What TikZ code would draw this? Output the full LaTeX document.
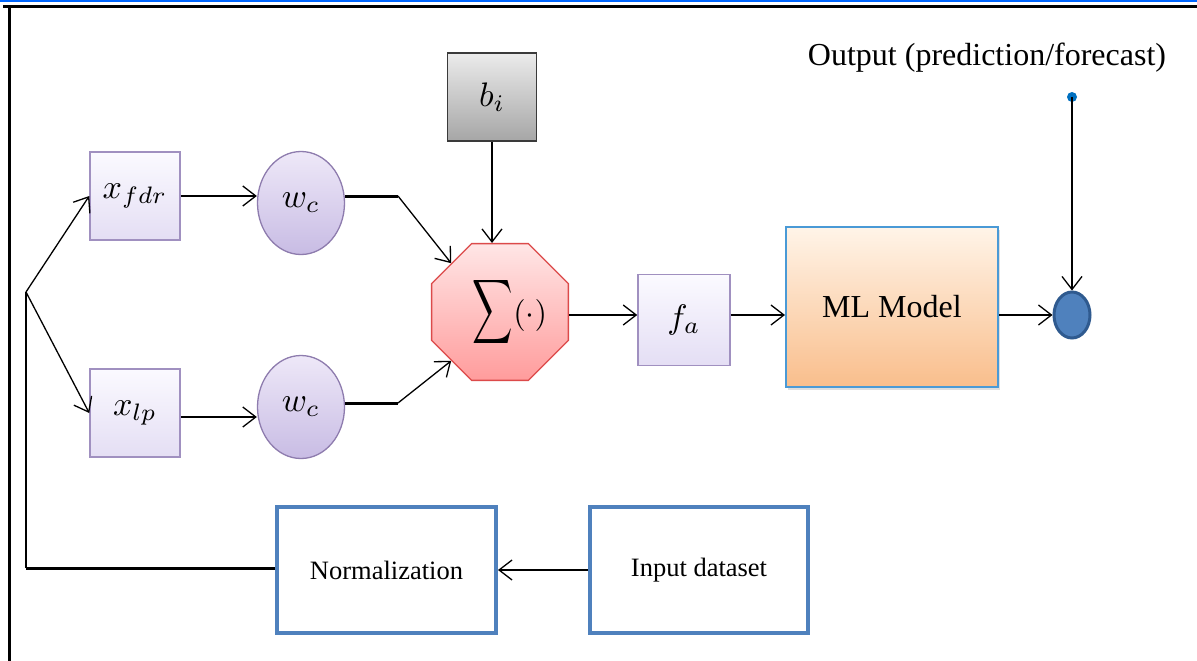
\documentclass[tikz,border=0pt]{standalone}
\usepackage{graphicx}
\usepackage{fontspec}
\setmainfont{Liberation Serif}
\usetikzlibrary{arrows.meta,shapes.geometric,shadows}
\definecolor{blueline}{HTML}{0066FF}
\definecolor{lavb}{HTML}{A090C0}
\definecolor{lavtop}{HTML}{FBFAFF}
\definecolor{lavbot}{HTML}{E4DEF4}
\definecolor{wctop}{HTML}{EEE8F8}
\definecolor{wcbot}{HTML}{C8BCE4}
\definecolor{wcb}{HTML}{8E7CAE}
\definecolor{bitop}{HTML}{EBEBEB}
\definecolor{bibot}{HTML}{A6A6A6}
\definecolor{bib}{HTML}{3A3A3A}
\definecolor{sumtop}{HTML}{FFE6E6}
\definecolor{sumbot}{HTML}{FF9C9C}
\definecolor{sumb}{HTML}{DC4A4A}
\definecolor{mltop}{HTML}{FFF4E8}
\definecolor{mlbot}{HTML}{F9BE8C}
\definecolor{mlb}{HTML}{4A9AD6}
\definecolor{outf}{HTML}{4F81BD}
\definecolor{outb}{HTML}{2F5A8F}
\definecolor{dotc}{HTML}{0070C0}
\definecolor{normb}{HTML}{4F81BD}
\newcommand{\bigmath}[1]{\scalebox{3.4}{$#1$}}
\tikzset{
  arr/.style={-{Straight Barb[length=13pt,width=20pt,line width=1.3pt]}, line width=1.3pt},
  thickln/.style={line width=3pt},
  lavbox/.style={draw=lavb, line width=1.5pt, top color=lavtop, bottom color=lavbot,
    minimum width=90pt, minimum height=88pt, inner sep=0pt},
  wcell/.style={ellipse, draw=wcb, line width=1.3pt, top color=wctop, bottom color=wcbot,
    minimum width=87pt, minimum height=103pt, inner sep=0pt},
  bibox/.style={draw=bib, line width=1.5pt, top color=bitop, bottom color=bibot,
    minimum width=89pt, minimum height=88pt, inner sep=0pt},
  sumoct/.style={regular polygon, regular polygon sides=8, draw=sumb, line width=1.3pt,
    top color=sumtop, bottom color=sumbot, minimum size=148pt, inner sep=0pt},
  mlbox/.style={draw=mlb, line width=2pt, top color=mltop, bottom color=mlbot,
    minimum width=212pt, minimum height=160pt, inner sep=0pt,
    font=\fontsize{32}{37}\selectfont,
    drop shadow={opacity=0.25, shadow xshift=2pt, shadow yshift=-3pt}},
  outell/.style={ellipse, draw=outb, line width=3pt, fill=outf,
    minimum width=36pt, minimum height=46pt, inner sep=0pt},
  plainbox/.style={draw=normb, line width=4pt, fill=white,
    minimum width=219pt, minimum height=126pt, inner sep=0pt,
    font=\fontsize{26.5}{31}\selectfont},
}
\begin{document}
\begin{tikzpicture}[x=1pt,y=-1pt]
\useasboundingbox (0,0) rectangle (1197,661);
\fill[white] (0,0) rectangle (1197,661);
% frame
\fill[blueline] (0,0) rectangle (1197,2.5);
\draw[line width=3pt] (3,6.5) -- (1197,6.5);
\draw[line width=3pt] (9,6.5) -- (9,661);
% nodes
\node[lavbox] (xf) at (135,196) {\bigmath{x_{fdr}}};
\node[lavbox] (xl) at (135,413) {\bigmath{x_{lp}}};
\node[wcell] (wc1) at (301,203) {\bigmath{w_c}};
\node[wcell] (wc2) at (301,407) {\bigmath{w_c}};
\node[bibox] (bi) at (492,97) {\bigmath{b_i}};
\node[sumoct] (sum) at (500,312) {};
\node[inner sep=0pt] (sumtxt) at (510,312) {\scalebox{2.8}[4.5]{$\displaystyle\sum$}\scalebox{3.2}{$(\cdot)$}};
\node[lavbox, minimum width=92pt, minimum height=91pt] (fa) at (684,320) {\bigmath{f_a}};
\node[mlbox] (ml) at (892,307) {ML Model};
\node[outell] (out) at (1072,315) {};
\node[circle, fill=dotc, minimum size=10pt, inner sep=0pt] (dot) at (1072,97) {};
\node[font=\fontsize{32}{37}\selectfont] (otxt) at (987,58) {Output (prediction/forecast)};
\node[plainbox] (norm) at (386.5,570) {Normalization};
\node[plainbox, minimum width=218pt] (inp) at (699,570) {Input dataset};
% coordinates
\coordinate (br) at (26,292);
\coordinate (corner) at (26,568);
\coordinate (k1) at (398,196);
\coordinate (k2) at (398,403);
% connectors
\draw[arr] (inp.west) -- (norm.east);
\draw[thickln] (norm.west |- corner) -- (corner);
\draw[line width=1.5pt] (corner) -- (br);
\draw[arr] (br) -- (xf.west);
\draw[arr] (br) -- (xl.west);
\draw[arr] (xf.east) -- (xf.east -| wc1.west);
\draw[arr] (xl.east |- 0,417) -- (wc2.west |- 0,417);
\draw[thickln] (wc1.east |- k1) -- (k1);
\draw[arr] (k1) -- (sum.135);
\draw[thickln] (wc2.east |- k2) -- (k2);
\draw[arr] (k2) -- (sum.225);
\draw[arr] (bi.south) -- (bi.south |- sum.north);
\draw[arr] (sum.east |- out.west) -- (fa.west |- out.west);
\draw[arr] (fa.east |- out.west) -- (ml.west |- out.west);
\draw[arr] (ml.east |- out.west) -- (out.west);
\draw[arr] (dot.center) -- (out.north);
\end{tikzpicture}
\end{document}
